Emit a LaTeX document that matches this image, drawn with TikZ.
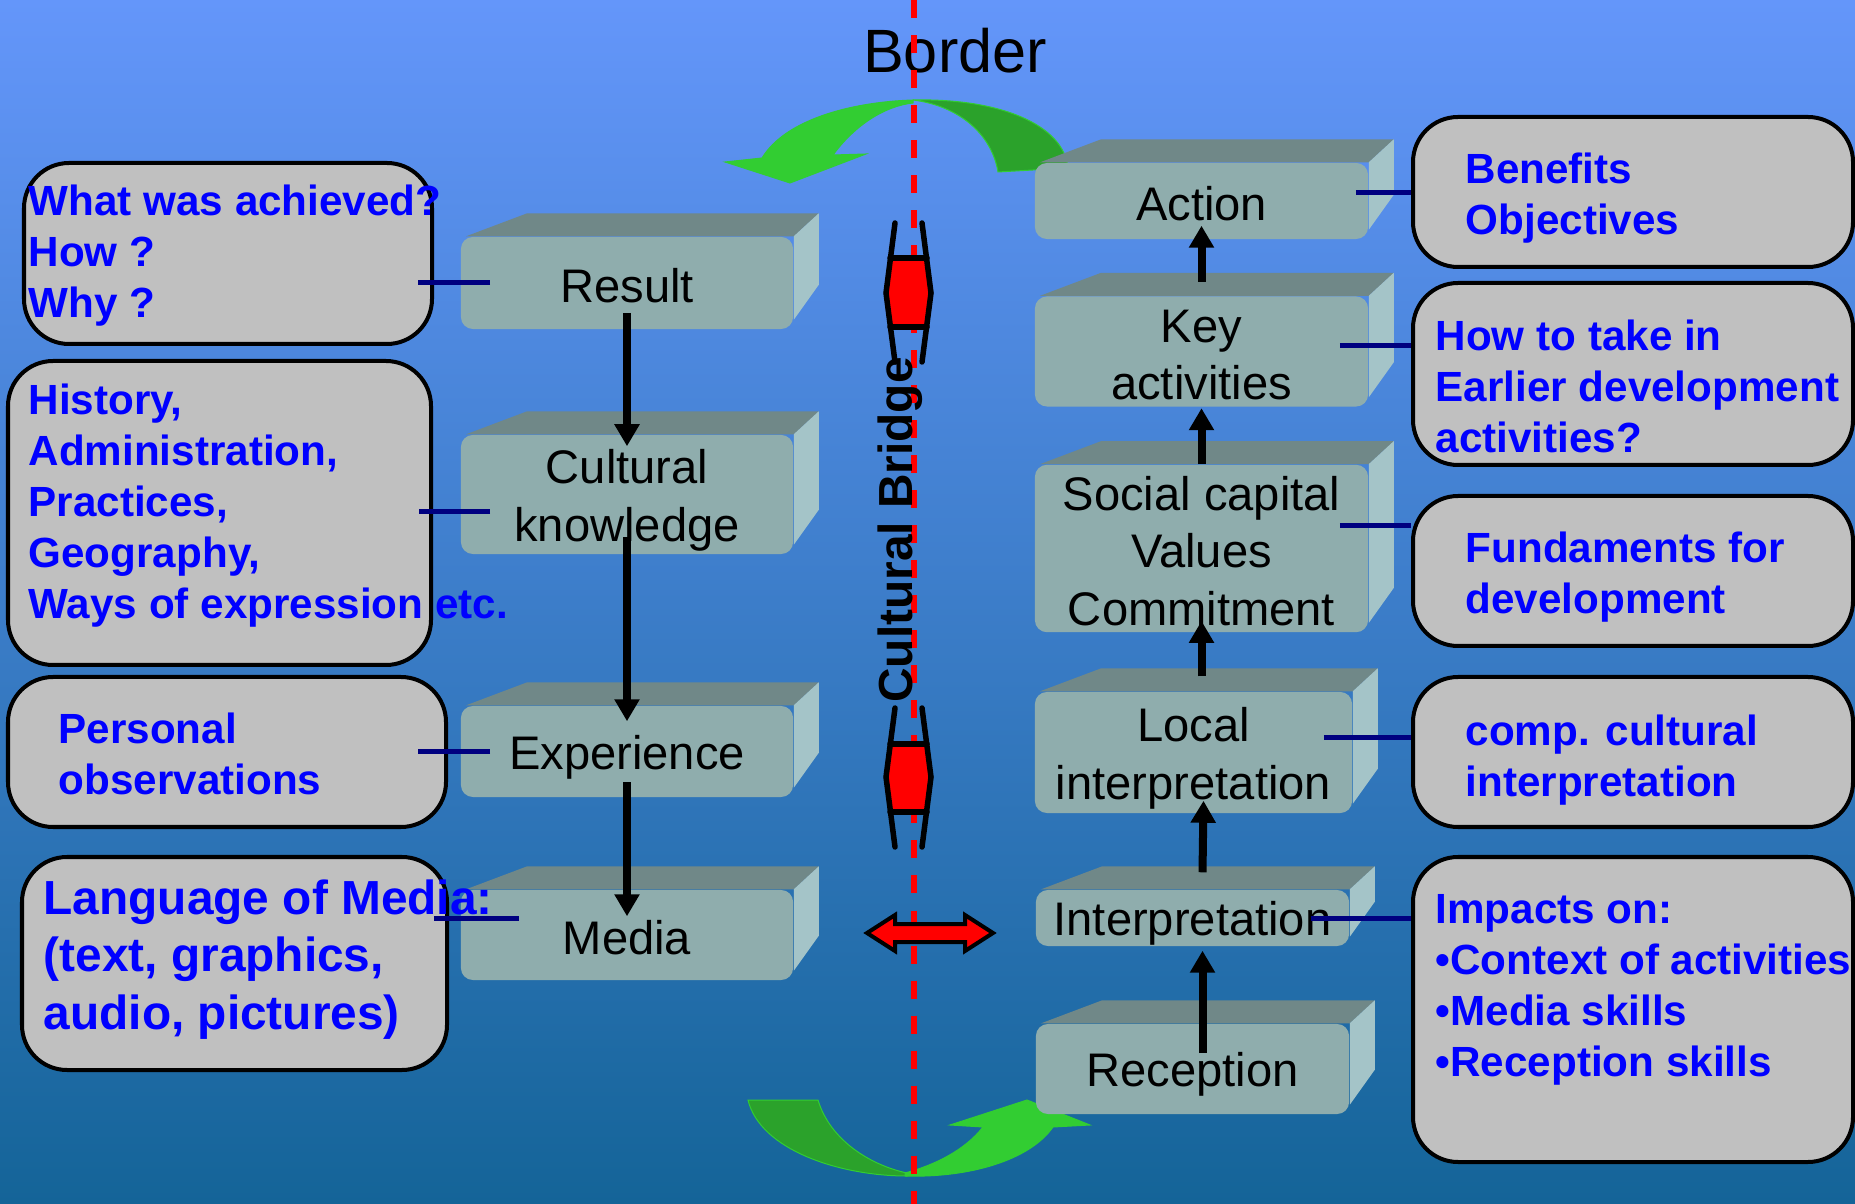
\documentclass[tikz,border=0pt]{standalone}
\usepackage{fontspec}
\setmainfont{Liberation Sans}
\usetikzlibrary{calc,fit,arrows.meta}

\definecolor{bgtop}{RGB}{100,150,250}
\definecolor{bgmid}{RGB}{72,128,212}
\definecolor{bgbot}{RGB}{20,100,152}
\definecolor{slabfront}{RGB}{143,173,173}
\definecolor{slabtop}{RGB}{112,136,136}
\definecolor{slabside}{RGB}{164,196,200}
\definecolor{notefill}{RGB}{192,192,192}
\definecolor{linknavy}{RGB}{0,0,128}
\definecolor{turndark}{RGB}{43,162,43}
\definecolor{turnlight}{RGB}{50,205,50}

\newcommand{\slabstrut}{\rule[-2pt]{0pt}{15pt}}

\tikzset{
  slab/.style={fill=slabfront, rounded corners=0.12cm, inner sep=0, align=center,
    font=\fontsize{13.4}{16.3}\selectfont, minimum width=3.32cm},
  callout/.style={draw=black, fill=notefill, line width=0.04cm, rounded corners=0.45cm, inner sep=0},
  note/.style={text=blue, anchor=north west, inner sep=0, align=left,
    font=\bfseries\fontsize{12}{14.5}\selectfont},
  link/.style={draw=linknavy, line width=0.05cm},
  flow/.style={line width=0.08cm, -{Triangle[length=0.22cm,width=0.24cm]}},
  post/.style={line width=0.055cm, line cap=round},
  turn/.style={draw=turnlight, line width=0.01cm}
}

\newcommand{\slabsides}[1]{%
  \fill[slabtop] ($(#1.north west)+(6,0)$) -- ++(61,-23) -- ($(#1.north east)+(25,-23)$) -- (#1.north east) -- cycle;
  \fill[slabside] (#1.north east) -- ++(25,-23) -- ($(#1.south east)+(25,-45)$) -- ($(#1.south east)+(0,-10)$) -- cycle;}

\begin{document}
\begin{tikzpicture}[x=0.01cm, y=-0.01cm]
  \useasboundingbox (0,0) rectangle (1855,1204);
  \shade[top color=bgtop, middle color=bgmid, bottom color=bgbot] (0,0) rectangle (1855,1204);

  % turning arrows across the border
  \fill[turndark, turn] (1068,168) .. controls (1064,125) and (1000,98) .. (913,100)
    .. controls (960,106) and (992,135) .. (998,172) -- cycle;
  \fill[turnlight, turn] (913,100) .. controls (850,102) and (785,120) .. (762,158) -- (725,162) -- (790,183)
    -- (866,154) -- (833,155) .. controls (855,125) and (885,106) .. (913,103) -- cycle;
  \fill[turndark, turn] (748,1100) -- (818,1100) .. controls (830,1140) and (870,1165) .. (907,1173)
    -- (907,1176) .. controls (840,1176) and (760,1150) .. (748,1100) -- cycle;
  \fill[turnlight, turn] (905,1176) .. controls (970,1178) and (1030,1160) .. (1053,1127) -- (1090,1125)
    -- (1027,1100) -- (950,1125) -- (983,1127) .. controls (965,1150) and (935,1165) .. (905,1173) -- cycle;

  \node[anchor=base, inner sep=0, font=\fontsize{17.4}{20}\selectfont] (border) at (955,73) {Border};
  \draw[red, line width=0.055cm, dash pattern=on 0.18cm off 0.17cm] (914,0) -- (914,1204);

  % bridge pillars
  \fill[red] (890,258) -- (927,258) -- (931,293) -- (927,327) -- (890,327) -- (886,293) -- cycle;
  \draw[post] (895,223) -- (886,293) -- (895,362);
  \draw[post] (922,223) -- (931,293) -- (922,362);
  \draw[post] (890,258) -- (927,258);
  \draw[post] (890,327) -- (927,327);
  \fill[red] (890,744) -- (927,744) -- (931,777) -- (927,812) -- (890,812) -- (886,777) -- cycle;
  \draw[post] (895,708) -- (886,777) -- (895,847);
  \draw[post] (922,708) -- (931,777) -- (922,847);
  \draw[post] (890,744) -- (927,744);
  \draw[post] (890,812) -- (927,812);
  \node[rotate=90, anchor=base, inner sep=0, font=\bfseries\fontsize{13.6}{16}\selectfont] (bridge) at (912,530) {Cultural Bridge};

  \draw[fill=red, line width=0.04cm, line join=miter] (867,933) -- (895,915) -- (895,924) -- (965,924) -- (965,915)
    -- (993,933) -- (965,951) -- (965,942) -- (895,942) -- (895,951) -- cycle;

  % left column
  \node[slab, minimum height=0.92cm] (res) at (627,283) {\slabstrut Result};
  \node[slab, minimum height=1.19cm] (know) at (627,494.5) {\slabstrut Cultural\\knowledge\slabstrut};
  \node[slab, minimum height=0.91cm] (exper) at (627,751.5) {\slabstrut Experience};
  \node[slab, minimum height=0.90cm] (media) at (627,935) {\slabstrut Media};
  % right column
  \node[slab, minimum width=3.33cm, minimum height=0.76cm] (action) at (1201.5,201) {\slabstrut Action};
  \node[slab, minimum width=3.33cm, minimum height=1.07cm] (keyact) at (1201.5,351.5) {\slabstrut Key\\activities\slabstrut};
  \node[slab, minimum width=3.33cm, minimum height=1.67cm] (social) at (1201.5,548.5) {\slabstrut Social capital\\Values\\Commitment\slabstrut};
  \node[slab, minimum width=3.17cm, minimum height=1.21cm] (local) at (1193.5,752.5) {\slabstrut Local\\interpretation\slabstrut};
  \node[slab, minimum width=3.13cm, minimum height=0.56cm] (interp) at (1192.5,918) {\slabstrut Interpretation};
  \node[slab, minimum width=3.13cm, minimum height=0.90cm] (recep) at (1192.5,1069) {\slabstrut Reception};
  \foreach \s in {res,know,exper,media,action,keyact,social,local,interp,recep}
    {\slabsides{\s}}

  % callouts
  \node[callout, fit={(24,163) (432,344)}] (achbox) {};
  \node[callout, fit={(8,361) (431,665)}] (histbox) {};
  \node[callout, fit={(8,677) (446,827)}] (persbox) {};
  \node[callout, fit={(22,857) (447,1070)}] (langbox) {};
  \node[callout, fit={(1413,117) (1853,267)}] (benbox) {};
  \node[callout, fit={(1413,283) (1853,465)}] (howbox) {};
  \node[callout, fit={(1413,496) (1853,646)}] (fundbox) {};
  \node[callout, fit={(1413,677) (1853,827)}] (compbox) {};
  \node[callout, fit={(1413,857) (1853,1162)}] (impbox) {};

  \node[note] (achtext) at (28,184) {What was achieved?\\How ?\\Why ?};
  \node[note] (histtext) at (28,383) {History,\\Administration,\\Practices,\\Geography,\\Ways of expression etc.};
  \node[note] (perstext) at (58,712) {Personal\\observations};
  \node[note, font=\bfseries\fontsize{13.6}{16.3}\selectfont] (langtext) at (43,879) {Language of Media:\\(text, graphics,\\audio, pictures)};
  \node[note] (bentext) at (1465,152) {Benefits\\Objectives};
  \node[note] (howtext) at (1435,319) {How to take in\\Earlier development\\activities?};
  \node[note] (fundtext) at (1465,531) {Fundaments for\\development};
  \node[note] (comptext) at (1465,714) {comp. cultural\\interpretation};
  \node[note] (imptext) at (1435,894) {Impacts on:\\\textbullet Context of activities\\\textbullet Media skills\\\textbullet Reception skills};

  \draw[link] ($(res.west)+(30,0)$) -- ($(achbox.east |- res.west)+(-16,0)$);
  \draw[link] ($(know.west)+(30,17)$) -- ($(histbox.east |- know.west)+(-14,17)$);
  \draw[link] ($(exper.west)+(30,0)$) -- ($(persbox.east |- exper.west)+(-30,0)$);
  \draw[link] ($(media.west)+(59,-17)$) -- ($(langbox.east |- media.west)+(-15,-17)$);
  \draw[link] ($(action.east)+(-13,-8)$) -- ($(benbox.west |- action.east)+(0,-8)$);
  \draw[link] ($(keyact.east)+(-29,-6)$) -- ($(howbox.west |- keyact.east)+(0,-6)$);
  \draw[link] ($(social.east)+(-29,-23)$) -- ($(fundbox.west |- social.east)+(0,-23)$);
  \draw[link] ($(local.east)+(-29,-15)$) -- ($(compbox.west |- local.east)+(0,-15)$);
  \draw[link] ($(interp.east)+(-39,0)$) -- (impbox.west |- interp.east);

  \draw[flow] ($(res.center)+(0,30)$) -- ($(know.north)+(0,12)$);
  \draw[flow] ($(know.center)+(0,43)$) -- ($(exper.north)+(0,16)$);
  \draw[flow] ($(exper.center)+(0,31)$) -- ($(media.north)+(0,27)$);
  \draw[flow] ($(recep.center)+(10,-16)$) -- ($(interp.south)+(10,4)$);
  \draw[flow] ($(interp.north)+(10,-17)$) -- ($(local.south)+(10,-13)$);
  \draw[flow] ($(local.north)+(8,-15)$) -- ($(social.south)+(0,-12)$);
  \draw[flow] (social.north) -- ($(keyact.south)+(0,1)$);
  \draw[flow] ($(keyact.north)+(0,-14)$) -- ($(action.south)+(0,-14)$);
\end{tikzpicture}
\end{document}
